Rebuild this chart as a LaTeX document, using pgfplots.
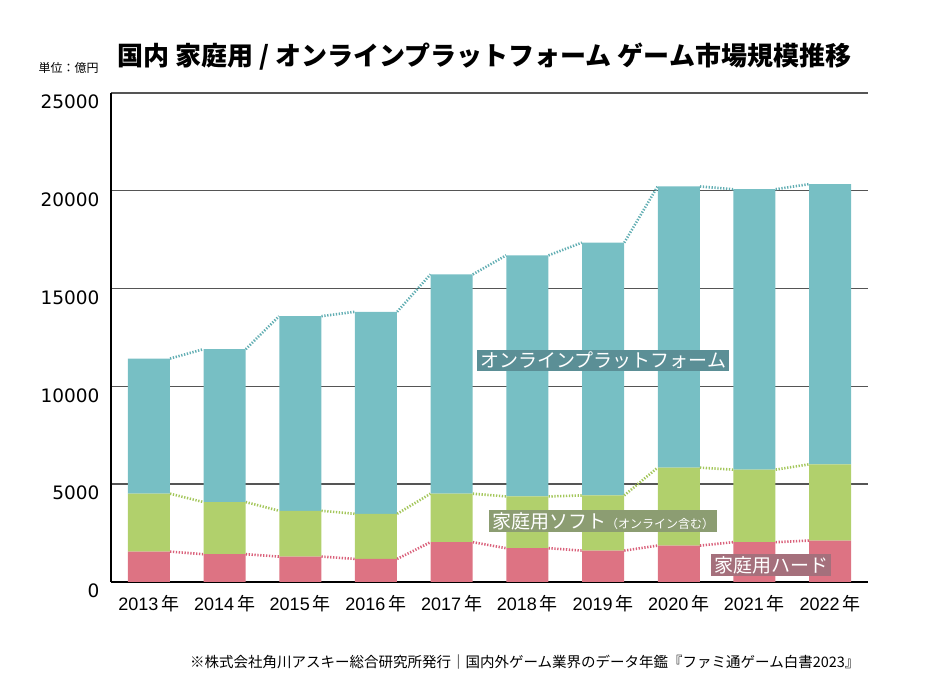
\documentclass[border=0pt]{standalone}
\usepackage{pgfplots}
\pgfplotsset{compat=1.18}
\usepackage{fontspec}
\setmainfont{Liberation Sans}
\newfontfamily\cjk{Noto Sans CJK JP}
\newfontfamily\dejavu{DejaVu Sans}
\definecolor{cOn}{HTML}{77BFC4}
\definecolor{cSoft}{HTML}{B1D06C}
\definecolor{cHard}{HTML}{DD7383}
\definecolor{cOnD}{HTML}{62AEB3}
\definecolor{cSoftD}{HTML}{A3C65A}
\definecolor{cHardD}{HTML}{D9607A}
\definecolor{bOn}{HTML}{5B8F96}
\definecolor{bSoft}{HTML}{8C9D72}
\definecolor{bHard}{HTML}{A5707C}
\definecolor{gridc}{HTML}{555555}
\begin{document}
\begin{tikzpicture}[x=1pt,y=1pt]
\path[use as bounding box] (0,0) rectangle (940,675);
\begin{axis}[at={(111pt,93pt)}, anchor=south west, scale only axis,
  width=757pt, height=489pt,
  xmin=-0.5, xmax=9.5, ymin=0, ymax=25000,
  ybar stacked, bar width=42pt,
  axis lines*=left,
  x axis line style={line width=2.5pt, black},
  y axis line style={line width=1.1pt, black},
  ymajorgrids, grid style={gridc, line width=1.4pt},
  major tick length=0,
  xtick={0,...,9},
  xticklabels={2013\,{\cjk 年},2014\,{\cjk 年},2015\,{\cjk 年},2016\,{\cjk 年},2017\,{\cjk 年},2018\,{\cjk 年},2019\,{\cjk 年},2020\,{\cjk 年},2021\,{\cjk 年},2022\,{\cjk 年}},
  ytick={0,5000,10000,15000,20000,25000},
  scaled y ticks=false,
  /pgf/number format/assume math mode=true,
  /pgf/number format/1000 sep={},
  yticklabel style={font=\dejavu\fontsize{18.5}{18.5}\selectfont, xshift=-8pt, yshift=-9pt},
  xticklabel style={font=\fontsize{18}{18}\selectfont, yshift=-10pt},
  clip=false,
]
\addplot[fill=cHard, draw=none] coordinates {(0,1554)(1,1420)(2,1300)(3,1180)(4,2035)(5,1728)(6,1605)(7,1862)(8,2035)(9,2118)};
\addplot[fill=cSoft, draw=none] coordinates {(0,2959)(1,2667)(2,2341)(3,2307)(4,2478)(5,2646)(6,2821)(7,3984)(8,3709)(9,3897)};
\addplot[fill=cOn, draw=none] coordinates {(0,6911)(1,7813)(2,9949)(3,10328)(4,11214)(5,12326)(6,12924)(7,14374)(8,14338)(9,14323)};
\end{axis}
\begin{axis}[at={(111pt,93pt)}, anchor=south west, scale only axis,
  width=757pt, height=489pt,
  xmin=-0.5, xmax=9.5, ymin=0, ymax=25000, hide axis, clip=false]
\pgfplotsset{every axis plot/.append style={line width=2.6pt, dash pattern=on 1.3pt off 1.6pt, unbounded coords=jump, no markers}}
\addplot[cHardD] coordinates {(0.28,1554)(0.72,1420)(1,nan)(1.28,1420)(1.72,1300)(2,nan)(2.28,1300)(2.72,1180)(3,nan)(3.28,1180)(3.72,2035)(4,nan)(4.28,2035)(4.72,1728)(5,nan)(5.28,1728)(5.72,1605)(6,nan)(6.28,1605)(6.72,1862)(7,nan)(7.28,1862)(7.72,2035)(8,nan)(8.28,2035)(8.72,2118)};
\addplot[cSoftD] coordinates {(0.28,4513)(0.72,4087)(1,nan)(1.28,4087)(1.72,3641)(2,nan)(2.28,3641)(2.72,3487)(3,nan)(3.28,3487)(3.72,4513)(4,nan)(4.28,4513)(4.72,4374)(5,nan)(5.28,4374)(5.72,4426)(6,nan)(6.28,4426)(6.72,5846)(7,nan)(7.28,5846)(7.72,5744)(8,nan)(8.28,5744)(8.72,6015)};
\addplot[cOnD] coordinates {(0.28,11424)(0.72,11900)(1,nan)(1.28,11900)(1.72,13590)(2,nan)(2.28,13590)(2.72,13815)(3,nan)(3.28,13815)(3.72,15727)(4,nan)(4.28,15727)(4.72,16700)(5,nan)(5.28,16700)(5.72,17350)(6,nan)(6.28,17350)(6.72,20220)(7,nan)(7.28,20220)(7.72,20082)(8,nan)(8.28,20082)(8.72,20338)};
\node[fill=bOn, text=white, inner xsep=3pt, inner ysep=2pt, font=\cjk\fontsize{19}{19}\selectfont] at (axis cs:6,11322) {オンラインプラットフォーム};
\node[fill=bSoft, text=white, inner xsep=3pt, inner ysep=2pt, font=\cjk\fontsize{19}{19}\selectfont] at (axis cs:6,3125) {家庭用ソフト{\fontsize{12}{12}\selectfont（オンライン含む）}};
\node[fill=bHard, text=white, inner xsep=3pt, inner ysep=2pt, font=\cjk\fontsize{19}{19}\selectfont] at (axis cs:8.22,870) {家庭用ハード};
\end{axis}
\node[anchor=west, font=\cjk\bfseries\fontsize{26}{26}\selectfont] at (114,618) {国内 家庭用 / オンラインプラットフォーム ゲーム市場規模推移};
\node[anchor=west, font=\cjk\fontsize{12}{12}\selectfont] at (35,607) {単位：億円};
\node[anchor=east, font=\cjk\fontsize{14.5}{14.5}\selectfont] at (863,13) {※株式会社角川アスキー総合研究所発行｜国内外ゲーム業界のデータ年鑑『ファミ通ゲーム白書2023』};
\end{tikzpicture}
\end{document}
